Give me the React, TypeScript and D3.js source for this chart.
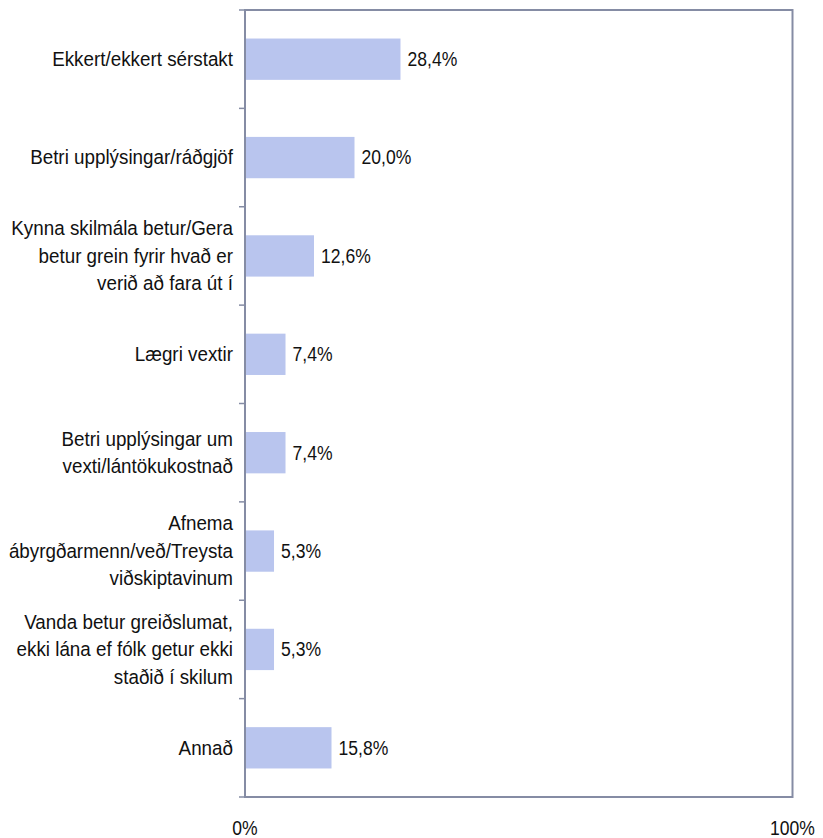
import React from "react";
import * as d3 from "d3";

const categories: string[][] = [
  ["Ekkert/ekkert sérstakt"],
  ["Betri upplýsingar/ráðgjöf"],
  ["Kynna skilmála betur/Gera", "betur grein fyrir hvað er", "verið að fara út í"],
  ["Lægri vextir"],
  ["Betri upplýsingar um", "vexti/lántökukostnað"],
  ["Afnema", "ábyrgðarmenn/veð/Treysta", "viðskiptavinum"],
  ["Vanda betur greiðslumat,", "ekki lána ef fólk getur ekki", "staðið í skilum"],
  ["Annað"],
];
const values: number[] = [28.4, 20.0, 12.6, 7.4, 7.4, 5.3, 5.3, 15.8];
const valueLabels: string[] = ["28,4%", "20,0%", "12,6%", "7,4%", "7,4%", "5,3%", "5,3%", "15,8%"];
const xTicks: number[] = [0, 100];
const xTickLabels: string[] = ["0%", "100%"];

const W = 823;
const H = 838;
const left = 245;
const right = 792.5;
const top = 10;
const bottom = 797;
const FONT = "'Liberation Sans', Arial, sans-serif";
const FS = 19.5;
const SX_LABEL = 0.965;
const SX_NUM = 0.9;
const LH = 27.5;
const frame = "#858CA4";
const barColor = "#B9C5EE";

export default function App() {
  const x = d3.scaleLinear().domain([0, 100]).range([left, right]);
  const idx = categories.map((_, i) => String(i));
  const y = d3.scaleBand().domain(idx).range([top, bottom]).paddingInner(0.58).paddingOuter(0.29);
  const yb = d3.scaleBand().domain(idx).range([top, bottom]);
  const tickYs = d3.range(categories.length + 1).map((i) => top + i * yb.step());

  return (
    <svg width={W} height={H} style={{ position: "absolute", left: 0, top: 0, background: "#fff" }} fontFamily={FONT}>
      {values.map((v, i) => (
        <rect key={i} x={x(0)} y={y(String(i))!} width={x(v) - x(0)} height={y.bandwidth()} fill={barColor} />
      ))}
      <rect x={left} y={top} width={right - left} height={bottom - top} fill="none" stroke={frame} strokeWidth={2} />
      {tickYs.map((ty, i) => (
        <line key={i} x1={left - 6} x2={left} y1={ty} y2={ty} stroke={frame} strokeWidth={1.5} />
      ))}
      {categories.map((lines, i) => {
        const cy = yb(String(i))! + yb.bandwidth() / 2;
        const start = cy - ((lines.length - 1) * LH) / 2;
        return (
          <text key={i} transform={`translate(233,${start}) scale(${SX_LABEL},1)`} textAnchor="end" fontSize={FS} fill="#111">
            {lines.map((l, j) => (
              <tspan key={j} x={0} y={j * LH} dy="0.35em">
                {l}
              </tspan>
            ))}
          </text>
        );
      })}
      {values.map((v, i) => (
        <text
          key={i}
          transform={`translate(${x(v) + 7},${yb(String(i))! + yb.bandwidth() / 2}) scale(${SX_NUM},1)`}
          dy="0.35em"
          fontSize={FS}
          fill="#111"
        >
          {valueLabels[i]}
        </text>
      ))}
      {xTicks.map((t, i) => (
        <text
          key={i}
          transform={`translate(${x(t)},828) scale(${SX_NUM},1)`}
          dy="0.35em"
          textAnchor="middle"
          fontSize={FS}
          fill="#111"
        >
          {xTickLabels[i]}
        </text>
      ))}
    </svg>
  );
}
